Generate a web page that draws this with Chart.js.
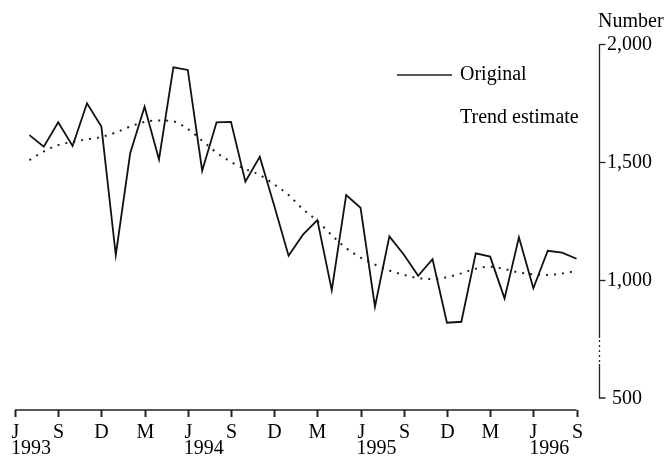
<!DOCTYPE html>
<html>
<head>
<meta charset="utf-8">
<script src="https://cdn.jsdelivr.net/npm/chart.js@4/dist/chart.umd.min.js"></script>
<style>
html,body{margin:0;padding:0;background:#fff;}
#wrap{width:665px;height:461px;}
</style>
</head>
<body>
<div id="wrap"><canvas id="c" width="665" height="461"></canvas></div>
<script>
// Months: July 1993 .. September 1996 (x index 1..39, index 0 = June 1993)
const months = ['Jul 1993','Aug 1993','Sep 1993','Oct 1993','Nov 1993','Dec 1993',
  'Jan 1994','Feb 1994','Mar 1994','Apr 1994','May 1994','Jun 1994','Jul 1994','Aug 1994','Sep 1994','Oct 1994','Nov 1994','Dec 1994',
  'Jan 1995','Feb 1995','Mar 1995','Apr 1995','May 1995','Jun 1995','Jul 1995','Aug 1995','Sep 1995','Oct 1995','Nov 1995','Dec 1995',
  'Jan 1996','Feb 1996','Mar 1996','Apr 1996','May 1996','Jun 1996','Jul 1996','Aug 1996','Sep 1996'];
const original = [1614,1565,1668,1568,1749,1650,1106,1537,1734,1511,
  1901,1890,1463,1668,1670,1417,1522,1316,1103,1192,
  1254,957,1360,1306,887,1185,1108,1018,1088,819,
  823,1113,1099,922,1181,965,1124,1116,1090];
const trend = [1508,1545,1572,1585,1596,1606,1625,1650,1670,1676,
  1672,1640,1590,1540,1500,1470,1445,1405,1360,1300,
  1250,1190,1135,1095,1065,1040,1022,1008,1004,1012,
  1028,1048,1056,1046,1032,1024,1021,1028,1038];
// x tick labels every 3 months starting June 1993 (index 0)
const xTickLabels = ['J','S','D','M','J','S','D','M','J','S','D','M','J','S'];
const yearLabels = [{at:0,text:'1993'},{at:12,text:'1994'},{at:24,text:'1995'},{at:36,text:'1996'}];
const yTicks = [2000,1500,1000,500];
const yTickText = ['2,000','1,500','1,000','500'];
const seriesNames = ['Original','Trend estimate'];
const yTitle = 'Number';

const FONT = '20px "Liberation Serif", "DejaVu Serif", serif';
const INK = '#000';

const axesPlugin = {
  id: 'axesPlugin',
  afterDraw(chart) {
    const ctx = chart.ctx;
    const xs = chart.scales.x, ys = chart.scales.y;
    ctx.save();
    ctx.strokeStyle = '#222';
    ctx.fillStyle = INK;
    ctx.lineWidth = 1.5;
    // X axis
    const axY = 410;
    const x0 = xs.getPixelForValue(0), x1 = xs.getPixelForValue(39);
    ctx.beginPath();
    ctx.moveTo(x0, axY); ctx.lineTo(x1, axY);
    ctx.stroke();
    ctx.font = FONT;
    ctx.textBaseline = 'middle';
    xTickLabels.forEach((lab, k) => {
      const px = Math.round(xs.getPixelForValue(k*3)) + 0.5;
      ctx.beginPath();
      ctx.moveTo(px, axY); ctx.lineTo(px, axY + 7);
      ctx.lineWidth = 2;
      ctx.stroke();
      ctx.textAlign = 'center';
      ctx.fillText(lab, px, 433);
    });
    yearLabels.forEach(y => {
      const px = xs.getPixelForValue(y.at);
      ctx.textAlign = 'left';
      ctx.fillText(y.text, px - 4, 449);
    });
    // Y axis on the right with a break
    const ax = 599.5;
    const yTop = ys.getPixelForValue(2000), yBot = ys.getPixelForValue(500);
    ctx.lineWidth = 1.3;
    ctx.beginPath();
    ctx.moveTo(ax, yTop); ctx.lineTo(ax, 338);
    ctx.moveTo(ax, 364); ctx.lineTo(ax, yBot);
    ctx.lineTo(ax + 6, yBot);
    ctx.stroke();
    ctx.setLineDash([2, 3]);
    ctx.beginPath();
    ctx.moveTo(ax, 340); ctx.lineTo(ax, 362);
    ctx.stroke();
    ctx.setLineDash([]);
    yTicks.forEach((v, i) => {
      const py = Math.round(ys.getPixelForValue(v)) + 0.5;
      if (v !== 500) {
        ctx.beginPath();
        ctx.moveTo(ax, py); ctx.lineTo(ax + 6, py);
        ctx.stroke();
      }
      ctx.textAlign = 'left';
      ctx.fillText(yTickText[i], v === 500 ? 612 : 607, py);
    });
    ctx.textAlign = 'left';
    ctx.fillText(yTitle, 598, 22);
    // Legend
    ctx.lineWidth = 1.6;
    ctx.beginPath();
    ctx.moveTo(397, 75); ctx.lineTo(452, 75);
    ctx.stroke();
    ctx.fillText(seriesNames[0], 460, 75);
    ctx.fillText(seriesNames[1], 460, 118);
    ctx.restore();
  }
};

new Chart(document.getElementById('c'), {
  type: 'line',
  data: {
    labels: months,
    datasets: [
      {
        label: seriesNames[0],
        data: original.map((v, i) => ({x: i + 1, y: v})),
        borderColor: '#111',
        borderWidth: 1.8,
        pointRadius: 0,
        tension: 0,
        fill: false
      },
      {
        label: seriesNames[1],
        data: trend.map((v, i) => ({x: i + 1, y: v})),
        borderColor: '#222',
        borderWidth: 2,
        borderDash: [2, 6],
        pointRadius: 0,
        cubicInterpolationMode: 'monotone',
        fill: false
      }
    ]
  },
  options: {
    responsive: false,
    animation: false,
    devicePixelRatio: 1,
    layout: {padding: {left: 15, right: 66, top: 44, bottom: 63}},
    plugins: {legend: {display: false}, tooltip: {enabled: false}},
    scales: {
      x: {type: 'linear', min: 0, max: 40.56, display: false},
      y: {min: 500, max: 2000, display: false}
    }
  },
  plugins: [axesPlugin]
});
</script>
</body>
</html>
